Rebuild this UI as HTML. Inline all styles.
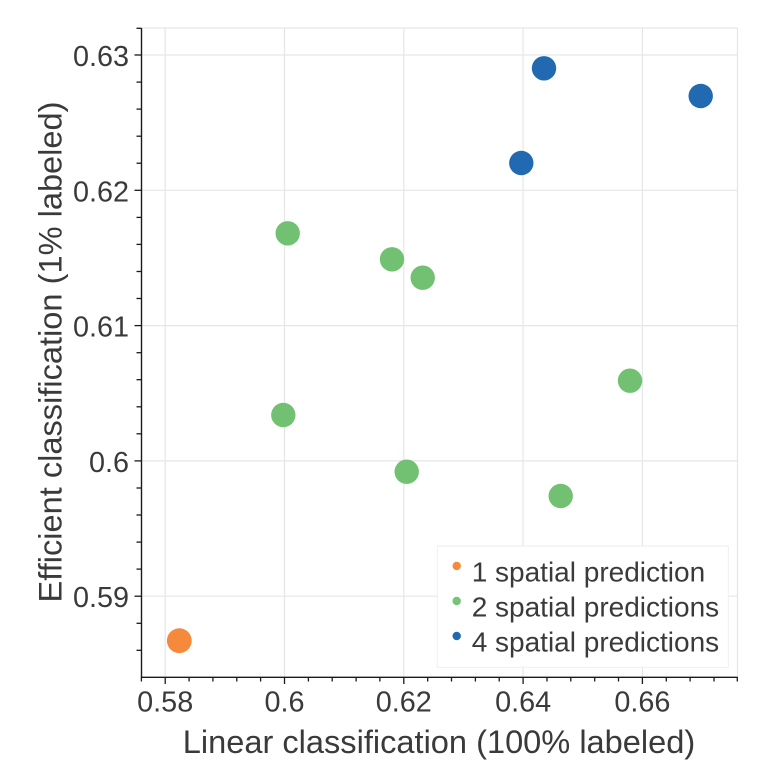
<!DOCTYPE html>
<html>
<head>
<meta charset="utf-8">
<style>
html,body{margin:0;padding:0;background:#fff;}
svg{display:block;}
text{font-family:"Liberation Sans", Arial, Helvetica, sans-serif;fill:#3a3a3a;}
</style>
</head>
<body>
<svg width="770" height="768" viewBox="0 0 770 768" xmlns="http://www.w3.org/2000/svg">
  <rect x="0" y="0" width="770" height="768" fill="#fff"/>
  <!-- grid -->
  <g stroke="#e6e6e6" stroke-width="1.2" fill="none">
    <line x1="165.2" y1="28" x2="165.2" y2="677"/>
    <line x1="284.5" y1="28" x2="284.5" y2="677"/>
    <line x1="403.8" y1="28" x2="403.8" y2="677"/>
    <line x1="523.1" y1="28" x2="523.1" y2="677"/>
    <line x1="642.4" y1="28" x2="642.4" y2="677"/>
    <line x1="141.5" y1="55" x2="737.5" y2="55"/>
    <line x1="141.5" y1="190.3" x2="737.5" y2="190.3"/>
    <line x1="141.5" y1="325.6" x2="737.5" y2="325.6"/>
    <line x1="141.5" y1="460.9" x2="737.5" y2="460.9"/>
    <line x1="141.5" y1="596.2" x2="737.5" y2="596.2"/>
    <!-- top/right frame -->
    <line x1="141.5" y1="28" x2="737.5" y2="28"/>
    <line x1="737.5" y1="28" x2="737.5" y2="677"/>
  </g>

  <!-- legend -->
  <rect x="437.3" y="546" width="291" height="121.3" fill="#fff" stroke="#eeeeee" stroke-width="1"/>
  <circle cx="456.7" cy="566" r="4.2" fill="#f58a3c"/>
  <circle cx="456.7" cy="601" r="4.2" fill="#74c476"/>
  <circle cx="456.7" cy="636" r="4.2" fill="#2169b1"/>
  <text x="471.7" y="581.7" font-size="28">1 spatial prediction</text>
  <text x="471.7" y="616.7" font-size="28">2 spatial predictions</text>
  <text x="471.7" y="651.7" font-size="28">4 spatial predictions</text>

  <!-- points -->
  <g fill="#2169b1">
    <circle cx="544" cy="68.3" r="12.2"/>
    <circle cx="700.7" cy="96" r="12.2"/>
    <circle cx="521.3" cy="163" r="12.2"/>
  </g>
  <g fill="#72c172">
    <circle cx="287.7" cy="233.3" r="12.2"/>
    <circle cx="392" cy="259.3" r="12.2"/>
    <circle cx="422.7" cy="277.7" r="12.2"/>
    <circle cx="630" cy="380.7" r="12.2"/>
    <circle cx="283.3" cy="415" r="12.2"/>
    <circle cx="406.7" cy="471.7" r="12.2"/>
    <circle cx="560.7" cy="496" r="12.2"/>
  </g>
  <circle cx="179.3" cy="640.7" r="12.4" fill="#f58a3c"/>

  <!-- spines -->
  <g stroke="#1a1a1a" stroke-width="1.4" fill="none">
    <line x1="141.5" y1="28" x2="141.5" y2="677.5"/>
    <line x1="141" y1="677.3" x2="737.5" y2="677.3"/>
  </g>
  <!-- x ticks -->
  <g stroke="#1a1a1a" stroke-width="1.3">
    <line x1="165.2" y1="677" x2="165.2" y2="684"/>
    <line x1="284.5" y1="677" x2="284.5" y2="684"/>
    <line x1="403.8" y1="677" x2="403.8" y2="684"/>
    <line x1="523.1" y1="677" x2="523.1" y2="684"/>
    <line x1="642.4" y1="677" x2="642.4" y2="684"/>
    <line x1="141.4" y1="677" x2="141.4" y2="681.5"/>
    <line x1="189.1" y1="677" x2="189.1" y2="681.5"/>
    <line x1="212.9" y1="677" x2="212.9" y2="681.5"/>
    <line x1="236.8" y1="677" x2="236.8" y2="681.5"/>
    <line x1="260.6" y1="677" x2="260.6" y2="681.5"/>
    <line x1="308.4" y1="677" x2="308.4" y2="681.5"/>
    <line x1="332.2" y1="677" x2="332.2" y2="681.5"/>
    <line x1="356.1" y1="677" x2="356.1" y2="681.5"/>
    <line x1="379.9" y1="677" x2="379.9" y2="681.5"/>
    <line x1="427.7" y1="677" x2="427.7" y2="681.5"/>
    <line x1="451.5" y1="677" x2="451.5" y2="681.5"/>
    <line x1="475.4" y1="677" x2="475.4" y2="681.5"/>
    <line x1="499.2" y1="677" x2="499.2" y2="681.5"/>
    <line x1="547.0" y1="677" x2="547.0" y2="681.5"/>
    <line x1="570.8" y1="677" x2="570.8" y2="681.5"/>
    <line x1="594.7" y1="677" x2="594.7" y2="681.5"/>
    <line x1="618.5" y1="677" x2="618.5" y2="681.5"/>
    <line x1="666.3" y1="677" x2="666.3" y2="681.5"/>
    <line x1="690.1" y1="677" x2="690.1" y2="681.5"/>
    <line x1="714.0" y1="677" x2="714.0" y2="681.5"/>
    <line x1="737.3" y1="677" x2="737.3" y2="681.5"/>
  </g>
  <!-- y ticks -->
  <g stroke="#1a1a1a" stroke-width="1.3">
    <line x1="134.5" y1="55" x2="141.5" y2="55"/>
    <line x1="134.5" y1="190.3" x2="141.5" y2="190.3"/>
    <line x1="134.5" y1="325.6" x2="141.5" y2="325.6"/>
    <line x1="134.5" y1="460.9" x2="141.5" y2="460.9"/>
    <line x1="134.5" y1="596.2" x2="141.5" y2="596.2"/>
    <line x1="136.5" y1="28.3" x2="141.5" y2="28.3"/>
    <line x1="136.5" y1="82.1" x2="141.5" y2="82.1"/>
    <line x1="136.5" y1="109.1" x2="141.5" y2="109.1"/>
    <line x1="136.5" y1="136.2" x2="141.5" y2="136.2"/>
    <line x1="136.5" y1="163.2" x2="141.5" y2="163.2"/>
    <line x1="136.5" y1="217.4" x2="141.5" y2="217.4"/>
    <line x1="136.5" y1="244.4" x2="141.5" y2="244.4"/>
    <line x1="136.5" y1="271.5" x2="141.5" y2="271.5"/>
    <line x1="136.5" y1="298.5" x2="141.5" y2="298.5"/>
    <line x1="136.5" y1="352.7" x2="141.5" y2="352.7"/>
    <line x1="136.5" y1="379.7" x2="141.5" y2="379.7"/>
    <line x1="136.5" y1="406.8" x2="141.5" y2="406.8"/>
    <line x1="136.5" y1="433.8" x2="141.5" y2="433.8"/>
    <line x1="136.5" y1="488.0" x2="141.5" y2="488.0"/>
    <line x1="136.5" y1="515.0" x2="141.5" y2="515.0"/>
    <line x1="136.5" y1="542.1" x2="141.5" y2="542.1"/>
    <line x1="136.5" y1="569.1" x2="141.5" y2="569.1"/>
    <line x1="136.5" y1="623.3" x2="141.5" y2="623.3"/>
    <line x1="136.5" y1="650.3" x2="141.5" y2="650.3"/>
  </g>

  <!-- x tick labels -->
  <g font-size="28.8" text-anchor="middle">
    <text x="165.2" y="711.7">0.58</text>
    <text x="284.5" y="711.7">0.6</text>
    <text x="403.8" y="711.7">0.62</text>
    <text x="523.1" y="711.7">0.64</text>
    <text x="642.4" y="711.7">0.66</text>
  </g>
  <!-- y tick labels -->
  <g font-size="28.8" text-anchor="end">
    <text x="129" y="66">0.63</text>
    <text x="129" y="201.3">0.62</text>
    <text x="129" y="336.6">0.61</text>
    <text x="129" y="471.8">0.6</text>
    <text x="129" y="607.1">0.59</text>
  </g>

  <!-- axis titles -->
  <text x="439" y="753" font-size="32.6" text-anchor="middle">Linear classification (100% labeled)</text>
  <text transform="translate(61.5,352) rotate(-90)" font-size="32.6" text-anchor="middle">Efficient classification (1% labeled)</text>
</svg>
</body>
</html>
